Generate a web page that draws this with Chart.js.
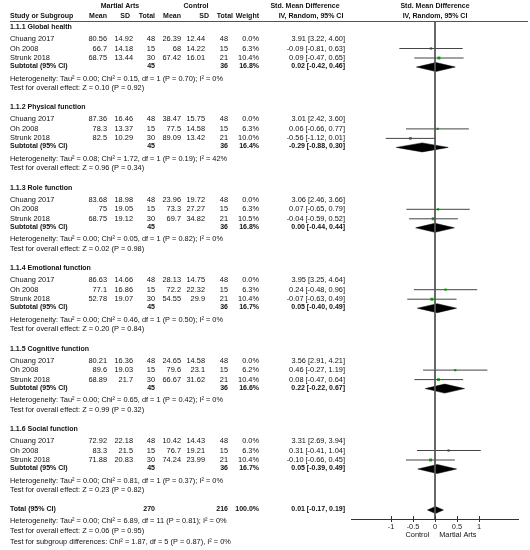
<!DOCTYPE html>
<html>
<head>
<meta charset="utf-8">
<script src="https://cdn.jsdelivr.net/npm/chart.js@4"></script>
<style>
html,body{margin:0;padding:0;background:#fff;}
#wrap{width:530px;height:550px;}
</style>
</head>
<body>
<div id="wrap"><canvas id="c" width="530" height="550"></canvas></div>
<script>
// ---------- DATA ----------
const subgroups = ["1.1.1 Global health","1.1.2 Physical function","1.1.3 Role function","1.1.4 Emotional function","1.1.5 Cognitive function","1.1.6 Social function"];
const studies = ["Chuang 2017","Oh 2008","Strunk 2018"];
const maMean = [[80.56,66.7,68.75],[87.36,78.3,82.5],[83.68,75,68.75],[86.63,77.1,52.78],[80.21,89.6,68.89],[72.92,83.3,71.88]];
const maSD   = [[14.92,14.18,13.44],[16.46,13.37,10.29],[18.98,19.05,19.12],[14.66,16.86,19.07],[16.36,19.03,21.7],[22.18,21.5,20.83]];
const maN    = [48,15,30];
const ctMean = [[26.39,68,67.42],[38.47,77.5,89.09],[23.96,73.3,69.7],[28.13,72.2,54.55],[24.65,79.6,66.67],[10.42,76.7,74.24]];
const ctSD   = [[12.44,14.22,16.01],[15.75,14.58,13.42],[19.72,27.27,34.82],[14.75,22.32,29.9],[14.58,23.1,31.62],[14.43,19.21,23.99]];
const ctN    = [48,15,21];
const weight = [[0.0,6.3,10.4],[0.0,6.3,10.0],[0.0,6.3,10.5],[0.0,6.3,10.4],[0.0,6.2,10.4],[0.0,6.3,10.4]];
const smd    = [[3.91,-0.09,0.09],[3.01,0.06,-0.56],[3.06,0.07,-0.04],[3.95,0.24,-0.07],[3.56,0.46,0.08],[3.31,0.31,-0.10]];
const ciLo   = [[3.22,-0.81,-0.47],[2.42,-0.66,-1.12],[2.46,-0.65,-0.59],[3.25,-0.48,-0.63],[2.91,-0.27,-0.47],[2.69,-0.41,-0.66]];
const ciHi   = [[4.60,0.63,0.65],[3.60,0.77,0.01],[3.66,0.79,0.52],[4.64,0.96,0.49],[4.21,1.19,0.64],[3.94,1.04,0.45]];
const subMaN = [45,45,45,45,45,45];
const subCtN = [36,36,36,36,36,36];
const subWeight = [16.8,16.4,16.8,16.7,16.6,16.7];
const subSmd = [0.02,-0.29,0.00,0.05,0.22,0.05];
const subLo  = [-0.42,-0.88,-0.44,-0.40,-0.22,-0.39];
const subHi  = [0.46,0.30,0.44,0.49,0.67,0.49];
const hetTau = ["0.00","0.08","0.00","0.00","0.00","0.00"];
const hetChi = ["0.15","1.72","0.05","0.46","0.65","0.81"];
const hetDf  = [1,1,1,1,1,1];
const hetP   = ["0.70","0.19","0.82","0.50","0.42","0.37"];
const hetI2  = ["0%","42%","0%","0%","0%","0%"];
const zVal   = ["0.10","0.96","0.02","0.20","0.99","0.23"];
const zP     = ["0.92","0.34","0.98","0.84","0.32","0.82"];
const totalMaN = 270, totalCtN = 216, totalWeight = 100.0;
const totalSmd = 0.01, totalLo = -0.17, totalHi = 0.19;
const totalHet = {tau:"0.00", chi:"6.89", df:11, p:"0.81", i2:"0%"};
const totalZ = {z:"0.06", p:"0.95"};
const subgroupTest = {chi:"1.87", df:5, p:"0.87", i2:"0%"};
const xTicks = [-1,-0.5,0,0.5,1];
const favourLeft = "Control", favourRight = "Martial Arts";

// ---------- LAYOUT (row positions, px below the header rule) ----------
const SEC_GAP = 80.4, SEC0 = 6;
const OFF = {head:0, st:[12,21.5,31], sub:39, het:51.5, test:61};
const secBase = s => SEC0 + SEC_GAP*s;
const TOT = {row:488, het:500, test:510, sg:521};
const HDR = [-15,-5];

// ---------- DATASETS ----------
const datasets = [];
datasets.push({data:[{x:0,y:0},{x:0,y:498}], showLine:true, borderColor:'#555', borderWidth:1, pointRadius:0});
const sq = [], sqR = [];
subgroups.forEach((g,s)=>{
  studies.forEach((st,i)=>{
    const y = secBase(s)+OFF.st[i];
    datasets.push({data:[{x:ciLo[s][i],y},{x:ciHi[s][i],y}], showLine:true, borderColor:'#444', borderWidth:1, pointRadius:0});
    sq.push({x:smd[s][i], y});
    sqR.push(weight[s][i] > 0 ? 1.6*Math.sqrt(weight[s][i]/6.3) : 0);
  });
});
function diamond(lo, est, hi, y, h){
  return {data:[{x:lo,y},{x:est,y:y-h},{x:hi,y},{x:est,y:y+h},{x:lo,y}], showLine:true, fill:'shape',
    backgroundColor:'#000', borderColor:'#000', borderWidth:0.5, pointRadius:0, tension:0};
}
subgroups.forEach((g,s)=>{ datasets.push(diamond(subLo[s], subSmd[s], subHi[s], secBase(s)+OFF.sub+1, 4.5)); });
datasets.push(diamond(totalLo, totalSmd, totalHi, TOT.row+1, 3.5));
datasets.push({data:sq, pointStyle:'rect', pointRadius:sqR, pointBackgroundColor:'#00c800', pointBorderWidth:0, showLine:false});

// ---------- TEXT ----------
const FONT = "'Liberation Sans', Arial, sans-serif";
const FS = 7.4, FSB = 7.0;
const COL = {left:10, maMean:107, maSD:133, maN:155, ctMean:181, ctSD:205, ctN:228, w:259, eff:345};
const f2 = v => v.toFixed(2);
const ci = (e,l,h) => `${f2(e)} [${f2(l)}, ${f2(h)}]`;

const textPlugin = {
  id:'forestText',
  afterDraw(chart){
    const ctx = chart.ctx, ys = chart.scales.y, xs = chart.scales.x;
    const Y = v => ys.getPixelForValue(v);
    const T = (str, x, y, align, bold) => {
      ctx.font = bold ? ('bold ' + FSB + 'px ' + FONT) : (FS + 'px ' + FONT);
      ctx.textAlign = align; ctx.textBaseline = 'middle'; ctx.fillStyle = '#111';
      ctx.fillText(str, x, y);
    };
    ctx.save();
    // header rule
    ctx.strokeStyle = '#555'; ctx.lineWidth = 1;
    ctx.beginPath(); ctx.moveTo(10, Math.round(Y(0))+0.5); ctx.lineTo(528, Math.round(Y(0))+0.5); ctx.stroke();
    // ticks crossing axis
    ctx.strokeStyle = '#333';
    xTicks.forEach(v=>{ const px = Math.round(xs.getPixelForValue(v))+0.5; ctx.beginPath(); ctx.moveTo(px, chart.chartArea.bottom-3); ctx.lineTo(px, chart.chartArea.bottom); ctx.stroke(); });
    // headers
    const plotC = xs.getPixelForValue(0);
    T('Martial Arts', 120, Y(HDR[0]), 'center', true);
    T('Control', 196, Y(HDR[0]), 'center', true);
    T('Std. Mean Difference', 305, Y(HDR[0]), 'center', true);
    T('Std. Mean Difference', plotC, Y(HDR[0]), 'center', true);
    T('Study or Subgroup', COL.left, Y(HDR[1]), 'left', true);
    T('Mean', COL.maMean, Y(HDR[1]), 'right', true);
    T('SD', 130, Y(HDR[1]), 'right', true);
    T('Total', COL.maN, Y(HDR[1]), 'right', true);
    T('Mean', COL.ctMean, Y(HDR[1]), 'right', true);
    T('SD', 209, Y(HDR[1]), 'right', true);
    T('Total', 233, Y(HDR[1]), 'right', true);
    T('Weight', COL.w, Y(HDR[1]), 'right', true);
    T('IV, Random, 95% CI', 311, Y(HDR[1]), 'center', true);
    T('IV, Random, 95% CI', plotC, Y(HDR[1]), 'center', true);
    // sections
    subgroups.forEach((g,s)=>{
      const b = secBase(s);
      T(g, COL.left, Y(b+OFF.head), 'left', true);
      studies.forEach((st,i)=>{
        const y = Y(b+OFF.st[i]);
        T(st, COL.left, y, 'left');
        T(String(maMean[s][i]), COL.maMean, y, 'right');
        T(String(maSD[s][i]), COL.maSD, y, 'right');
        T(String(maN[i]), COL.maN, y, 'right');
        T(String(ctMean[s][i]), COL.ctMean, y, 'right');
        T(String(ctSD[s][i]), COL.ctSD, y, 'right');
        T(String(ctN[i]), COL.ctN, y, 'right');
        T(weight[s][i].toFixed(1)+'%', COL.w, y, 'right');
        T(ci(smd[s][i], ciLo[s][i], ciHi[s][i]), COL.eff, y, 'right');
      });
      const ysub = Y(b+OFF.sub);
      T('Subtotal (95% CI)', COL.left, ysub, 'left', true);
      T(String(subMaN[s]), COL.maN, ysub, 'right', true);
      T(String(subCtN[s]), COL.ctN, ysub, 'right', true);
      T(subWeight[s].toFixed(1)+'%', COL.w, ysub, 'right', true);
      T(ci(subSmd[s], subLo[s], subHi[s]), COL.eff, ysub, 'right', true);
      T(`Heterogeneity: Tau² = ${hetTau[s]}; Chi² = ${hetChi[s]}, df = ${hetDf[s]} (P = ${hetP[s]}); I² = ${hetI2[s]}`, COL.left, Y(b+OFF.het), 'left');
      T(`Test for overall effect: Z = ${zVal[s]} (P = ${zP[s]})`, COL.left, Y(b+OFF.test), 'left');
    });
    // total
    const yt = Y(TOT.row);
    T('Total (95% CI)', COL.left, yt, 'left', true);
    T(String(totalMaN), COL.maN, yt, 'right', true);
    T(String(totalCtN), COL.ctN, yt, 'right', true);
    T(totalWeight.toFixed(1)+'%', COL.w, yt, 'right', true);
    T(ci(totalSmd, totalLo, totalHi), COL.eff, yt, 'right', true);
    T(`Heterogeneity: Tau² = ${totalHet.tau}; Chi² = ${totalHet.chi}, df = ${totalHet.df} (P = ${totalHet.p}); I² = ${totalHet.i2}`, COL.left, Y(TOT.het), 'left');
    T(`Test for overall effect: Z = ${totalZ.z} (P = ${totalZ.p})`, COL.left, Y(TOT.test), 'left');
    T(`Test for subgroup differences: Chi² = ${subgroupTest.chi}, df = ${subgroupTest.df} (P = ${subgroupTest.p}), I² = ${subgroupTest.i2}`, COL.left, Y(TOT.sg), 'left');
    // favours labels
    const yb = chart.chartArea.bottom + 16;
    T(favourLeft, xs.getPixelForValue(-0.4), yb, 'center');
    T(favourRight, xs.getPixelForValue(0.52), yb, 'center');
    ctx.restore();
  }
};

new Chart(document.getElementById('c'), {
  type:'scatter',
  data:{datasets},
  options:{
    responsive:false, animation:false, devicePixelRatio:1,
    layout:{padding:{left:351.4, right:11.4, top:21, bottom:15}},
    plugins:{legend:{display:false}, tooltip:{enabled:false}},
    scales:{
      x:{type:'linear', min:-1.9, max:1.9, position:'bottom',
        afterBuildTicks: sc => { sc.ticks = xTicks.map(v=>({value:v})); },
        afterFit: sc => { sc.height = 16; },
        ticks:{font:{size:FS, family:FONT}, color:'#222', padding:1, maxRotation:0, autoSkip:false,
          callback: v => String(v)},
        grid:{drawOnChartArea:false, drawTicks:true, tickLength:3, color:'#333'},
        border:{display:true, color:'#333', width:1}},
      y:{type:'linear', display:false, min:0, max:498, reverse:true}
    }
  },
  plugins:[textPlugin]
});
</script>
</body>
</html>
